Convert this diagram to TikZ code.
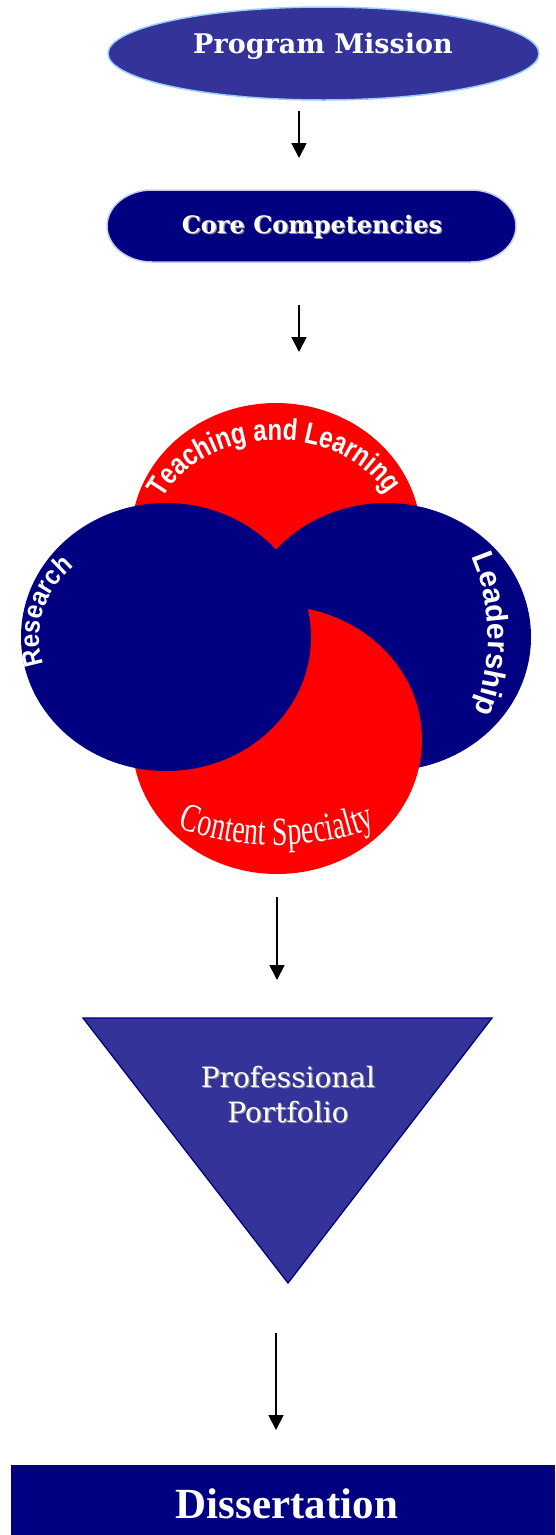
\documentclass[tikz,border=0pt]{standalone}
\usepackage{fontspec}
\usetikzlibrary{shapes.geometric,arrows.meta,decorations.text,calc}
\newfontfamily\arialfont{Liberation Sans}
\newfontfamily\arialcond[FakeStretch=0.8]{Liberation Sans}
\newfontfamily\arialsemi[FakeStretch=0.9]{Liberation Sans}
\newfontfamily\serifd{DejaVu Serif}
\newfontfamily\timesfont{Liberation Serif}
\newfontfamily\timescond[FakeStretch=0.7]{Liberation Serif}
\definecolor{navy}{HTML}{000080}
\definecolor{slate}{HTML}{333399}
\definecolor{pmborder}{HTML}{99CCFF}
\definecolor{ccborder}{HTML}{C8C8FF}
\definecolor{vred}{HTML}{FF0000}
\definecolor{shadowgray}{HTML}{8A8A9A}
\begin{document}
\begin{tikzpicture}[x=1pt,y=1pt,
  arr/.style={line width=1.8pt, -{Triangle[width=15pt,length=15pt]}},
  wtext/.style={text=white, inner sep=0, anchor=base},
  shtext/.style={text=shadowgray, inner sep=0, anchor=base},
  curvedc/.style={decorate, decoration={text along path, text color=white, text align=center, text={#1}}},
  curvedf/.style={decorate, decoration={text along path, text color=white, text align=fit to path, text={#1}}},
  venn/.style={x radius=145, y radius=134},
]
\useasboundingbox (0,0) rectangle (555,-1535);

% Program Mission
\node[ellipse, fill=slate, draw=pmborder, line width=1.5pt, minimum width=431, minimum height=93, inner sep=0] (pm) at (323.5,-53.5) {};
\node[wtext, font=\serifd\bfseries\fontsize{27}{27}\selectfont] (pmt) at (323,-53) {Program Mission};

% Core Competencies
\filldraw[fill=navy, draw=ccborder, line width=1.5pt] (152,-190) -- (471,-190)
  arc[start angle=90, end angle=-90, x radius=45, y radius=36] -- (152,-262)
  arc[start angle=270, end angle=90, x radius=45, y radius=36] -- cycle;
\node[shtext, font=\serifd\bfseries\fontsize{24}{24}\selectfont] (ccs) at (313.2,-234.2) {Core Competencies};
\node[wtext, font=\serifd\bfseries\fontsize{24}{24}\selectfont] (cct) at (312,-233) {Core Competencies};

% arrows
\coordinate (a1s) at (299,-111);
\coordinate (a1e) at (299,-158);
\coordinate (a2s) at (299,-305);
\coordinate (a2e) at (299,-352);
\coordinate (a3s) at (277,-897);
\coordinate (a3e) at (277,-980);
\coordinate (a4s) at (276,-1333);
\coordinate (a4e) at (276,-1430);
\draw[arr] (a1s) -- (a1e);
\draw[arr] (a2s) -- (a2e);
\draw[arr] (a3s) -- (a3e);
\draw[arr] (a4s) -- (a4e);

% Venn
\coordinate (tc) at (276,-537);
\coordinate (rc) at (386,-637);
\coordinate (bc) at (277,-740);
\coordinate (lc) at (166,-637);
\fill[vred] (tc) ellipse [venn];
\fill[navy] (rc) ellipse [venn];
\fill[vred] (bc) ellipse [venn];
\fill[navy] (lc) ellipse [venn];

\path[curvedc={|\arialcond\bfseries\fontsize{30}{30}\selectfont|Teaching and Learning}]
  ($(tc)+(178:123 and 97)$) arc[start angle=178, end angle=5, x radius=123, y radius=97];
\path[curvedc={|\arialsemi\bfseries\fontsize{27}{27}\selectfont|Research}]
  ($(lc)+(214:127 and 102)$) arc[start angle=214, end angle=120, x radius=127, y radius=102];
\path[curvedc={|\arialfont\bfseries\fontsize{30}{30}\selectfont|Leadership}]
  ($(rc)+(60:102 and 148)$) arc[start angle=60, end angle=-57, x radius=102, y radius=148];
\path[curvedf={|\timescond\fontsize{40}{40}\selectfont|Content Specialty}]
  ($(bc)+(236:177 and 105)$) arc[start angle=236, end angle=304, x radius=177, y radius=105];

% Professional Portfolio
\coordinate (tl) at (83,-1018);
\coordinate (tr) at (492,-1018);
\coordinate (tb) at (288,-1283);
\filldraw[fill=slate, draw=navy, line width=1.3pt] (tl) -- (tr) -- (tb) -- cycle;
\node[shtext, font=\serifd\fontsize{28}{28}\selectfont] (pps1) at (289.2,-1088.2) {Professional};
\node[shtext, font=\serifd\fontsize{28}{28}\selectfont] (pps2) at (289.2,-1123.2) {Portfolio};
\node[wtext, font=\serifd\fontsize{28}{28}\selectfont] (pp1) at (288,-1087) {Professional};
\node[wtext, font=\serifd\fontsize{28}{28}\selectfont] (pp2) at (288,-1122) {Portfolio};

% Dissertation
\node[fill=navy, minimum width=544, minimum height=70, inner sep=0] (diss) at (283,-1500) {};
\node[wtext, font=\timesfont\bfseries\fontsize{43}{43}\selectfont] (disst) at (287,-1518) {Dissertation};
\end{tikzpicture}
\end{document}
